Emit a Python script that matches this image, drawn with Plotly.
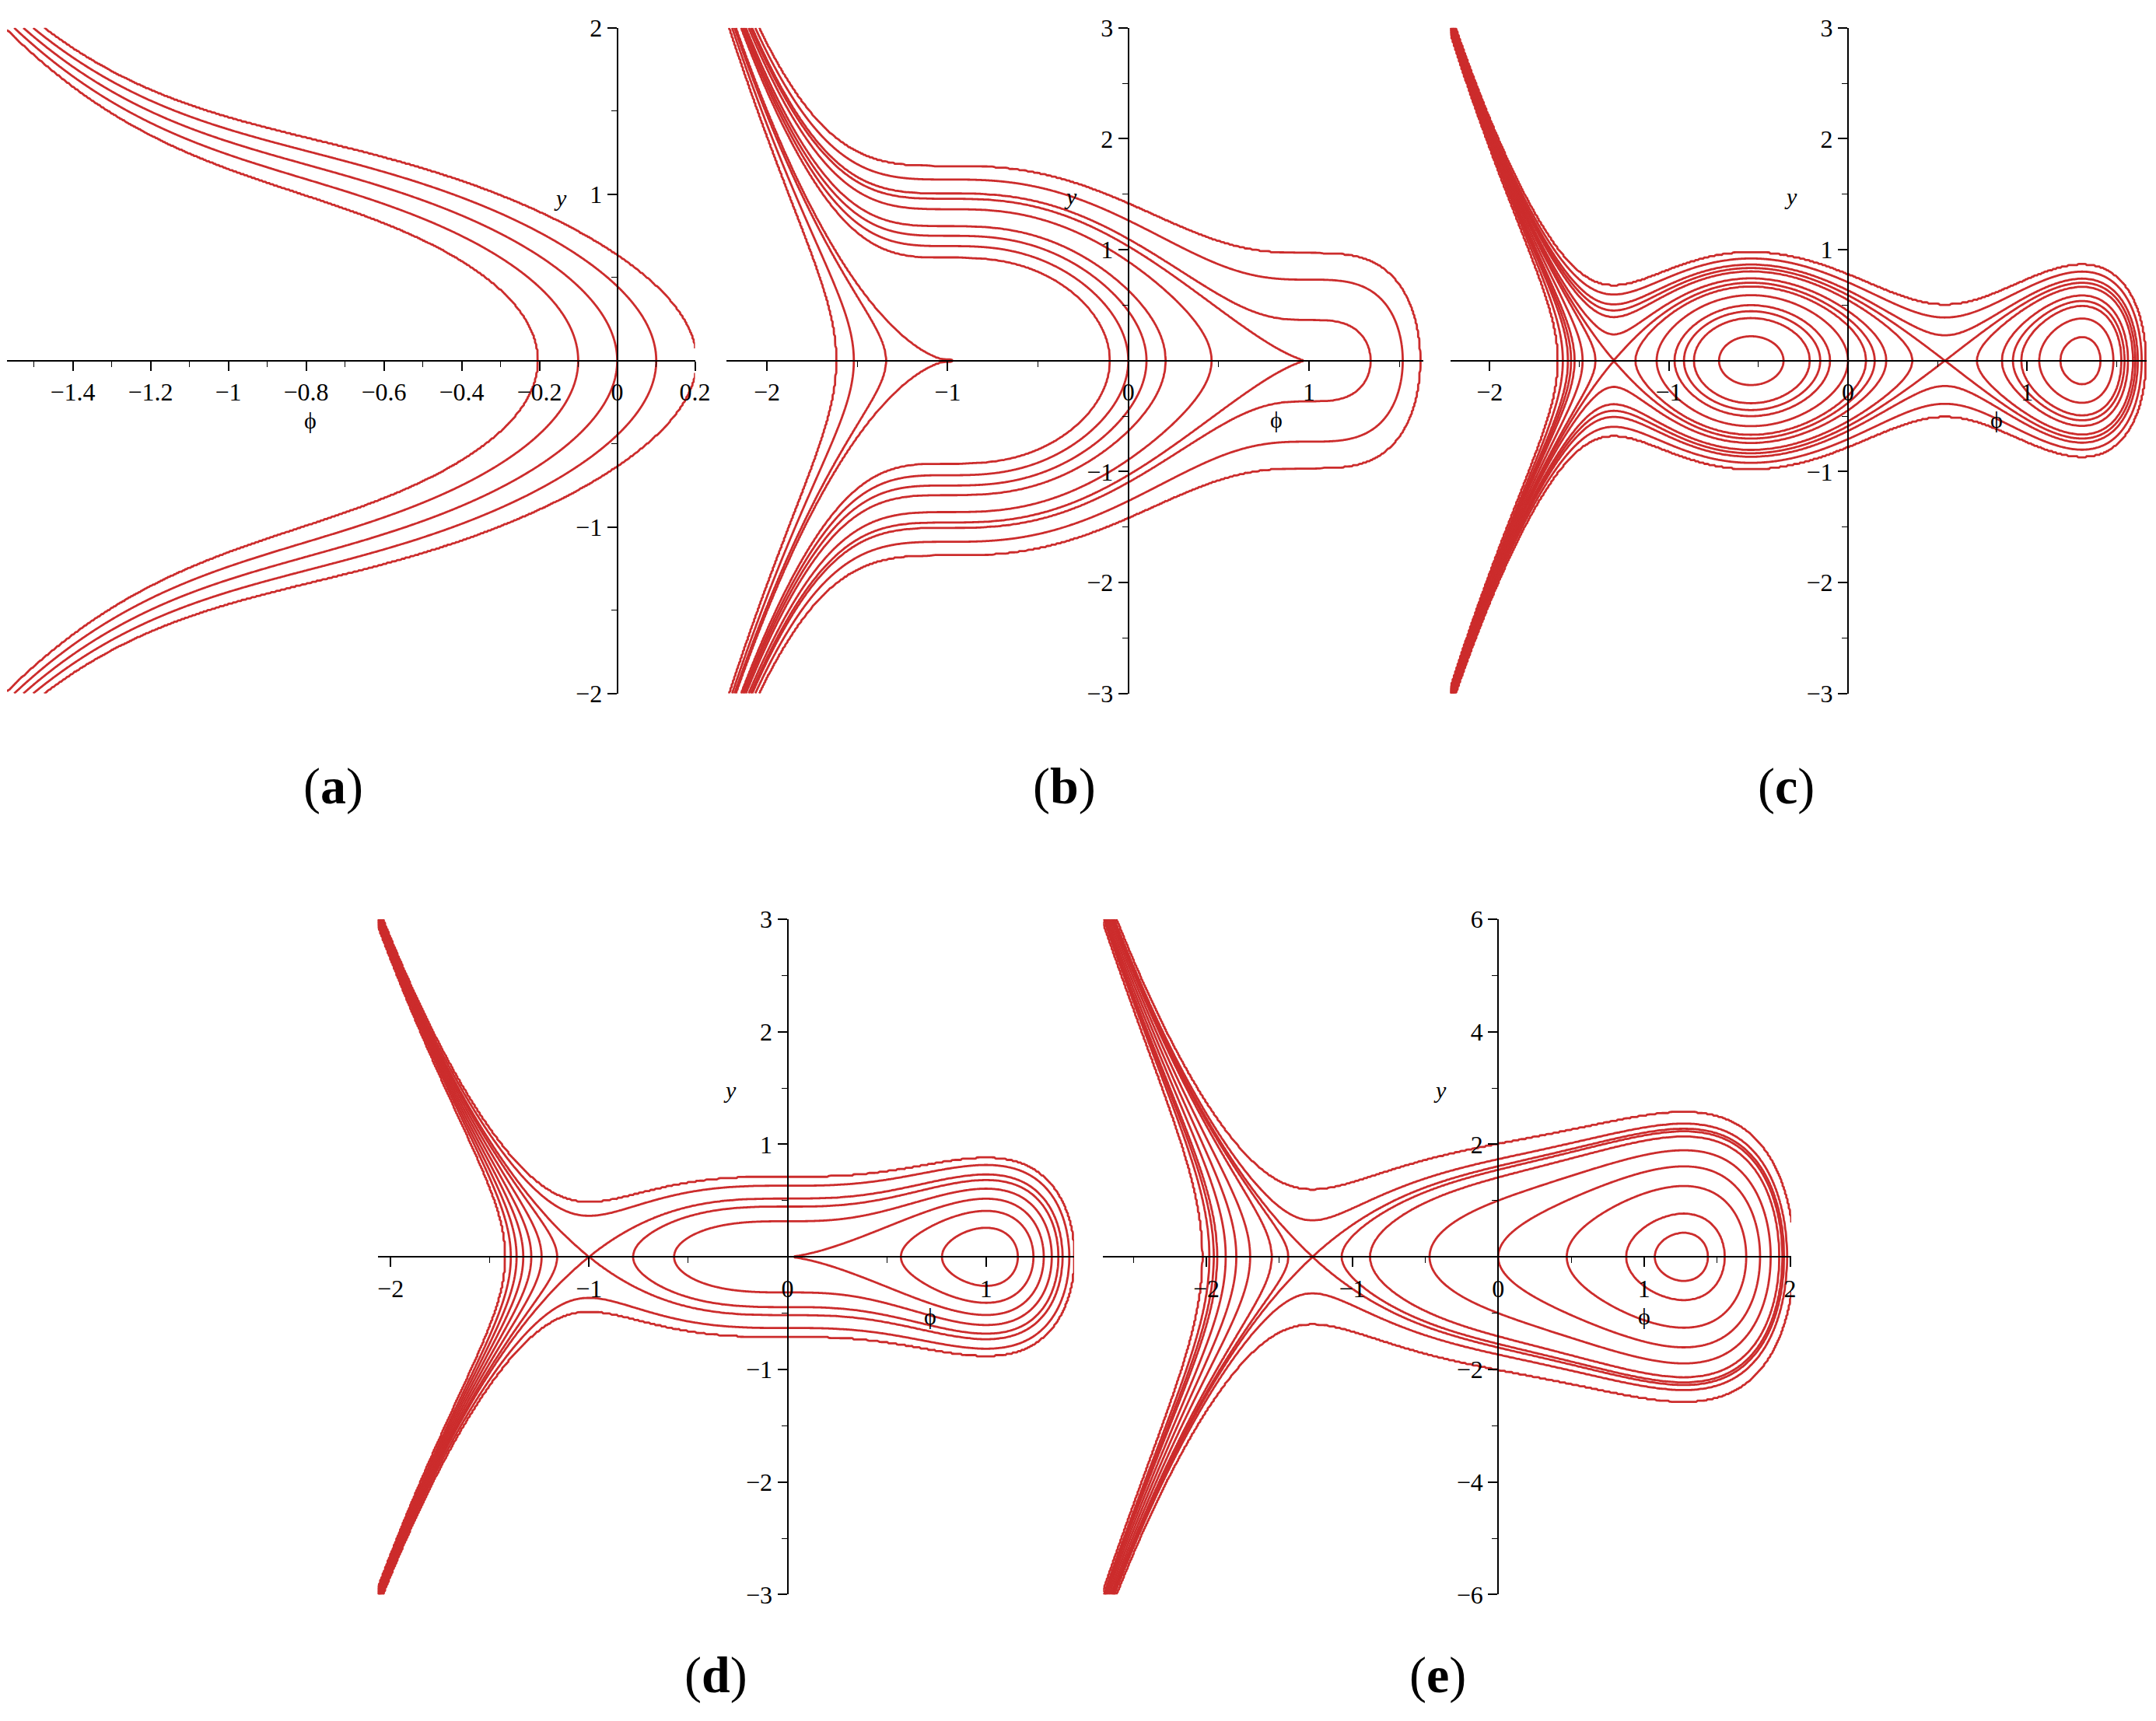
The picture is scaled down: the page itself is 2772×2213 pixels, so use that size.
import numpy as np
import plotly.graph_objects as go

W, H = 2772, 2213
RED = "rgb(204, 44, 44)"
FONT = "Liberation Serif"

# dphi/dxi = y, dy/dxi = -(phi^4 - a*phi^2 + b)
pot_a = [1.0, 2.0, 2.0, 1.0, 1.0]
pot_b = [1.0, 1.0, 0.5, 0.0, -1.0]

levels_a = [-0.2, -0.1, 0.0, 0.1, 0.2]
levels_b = [-1.0, -0.8, -0.6, -0.5333, -0.1, 0.0, 0.1, 0.2, 0.4, 0.5333, 0.6, 0.8, 1.0]
levels_c = [-0.2, -0.15, -0.1, -0.075, -0.05, 0.0, 0.05, 0.0722, 0.1, 0.15, 0.1742, 0.2, 0.25, 0.3]
levels_d = [-0.2, -0.15, -0.1, -0.05, 0.0, 0.05, 0.1, 0.1333, 0.2, 0.25]
levels_e = [-2.0, -1.5, -1.2, -1.0, -0.5, 0.0, 0.5, 1.0, 1.2, 1.292, 1.5, 2.0]

xticks_a = [-1.4, -1.2, -1, -0.8, -0.6, -0.4, -0.2, 0, 0.2]
xticks_bcd = [-2, -1, 0, 1]
xticks_e = [-2, -1, 0, 1, 2]
yticks_a = [-2, -1, 1, 2]
yticks_bcd = [-3, -2, -1, 1, 2, 3]
yticks_e = [-6, -4, -2, 2, 4, 6]

tags = ["a", "b", "c", "d", "e"]

# pixel box of each axes (left, right, top, bottom), ranges and label spots
panels = [
    dict(levels=levels_a, box=(1, 892, 10, 880), xr=(-1.569, 0.2), yr=(-2, 2),
         xt=xticks_a, yt=yticks_a, xminor=0.1, yminor=0.5,
         phi_at=(-0.79, -0.36), y_at=(-0.147, 0.98), tag_at=(424, 1001)),
    dict(levels=levels_b, box=(933, 1835, 10, 880), xr=(-2.223, 1.632), yr=(-3, 3),
         xt=xticks_bcd, yt=yticks_bcd, xminor=0.5, yminor=0.5,
         phi_at=(0.82, -0.53), y_at=(-0.32, 1.48), tag_at=(1370, 1001)),
    dict(levels=levels_c, box=(1870, 2772, 10, 880), xr=(-2.22, 1.667), yr=(-3, 3),
         xt=xticks_bcd, yt=yticks_bcd, xminor=0.5, yminor=0.5,
         phi_at=(0.83, -0.53), y_at=(-0.32, 1.48), tag_at=(2305, 1001)),
    dict(levels=levels_d, box=(481, 1383, 1175, 2057.9), xr=(-2.065, 1.444), yr=(-3, 3),
         xt=xticks_bcd, yt=yticks_bcd, xminor=0.5, yminor=0.5,
         phi_at=(0.72, -0.53), y_at=(-0.29, 1.48), tag_at=(919, 2163)),
    dict(levels=levels_e, box=(1420.5, 2311.7, 1175, 2057.9), xr=(-2.707, 2.008), yr=(-6, 6),
         xt=xticks_e, yt=yticks_e, xminor=0.5, yminor=1,
         phi_at=(1.0, -1.06), y_at=(-0.40, 2.97), tag_at=(1854, 2163)),
]


def energy(phi, y, a, b):
    return 0.5 * y ** 2 + phi ** 5 / 5 - a * phi ** 3 / 3 + b * phi


def tick_text(vals):
    return [f"{v:g}".replace("-", "\u2212") for v in vals]


fig = go.Figure()
annotations = []

for i, p in enumerate(panels):
    k = "" if i == 0 else str(i + 1)
    xs = np.linspace(p["xr"][0], p["xr"][1], 560)
    ys = np.linspace(p["yr"][0], p["yr"][1], 520)
    P, Y = np.meshgrid(xs, ys)
    E = energy(P, Y, pot_a[i], pot_b[i])

    # remap energy so the wanted levels become 0, 1, 2, ... for the contour trace
    lv = np.sort(np.array(p["levels"], dtype=float))
    lo = min(E.min(), lv[0]) - 1
    hi = max(E.max(), lv[-1]) + 1
    Z = np.interp(E, np.concatenate([[lo], lv, [hi]]), np.arange(-1, len(lv) + 1)).astype(np.float32)

    fig.add_trace(go.Contour(
        x=xs, y=ys, z=Z, xaxis="x" + k, yaxis="y" + k,
        autocontour=False,
        contours=dict(coloring="none", start=0, end=len(lv) - 1, size=1),
        line=dict(color=RED, width=2.8, smoothing=0.6),
        showscale=False, hoverinfo="skip",
    ))

    left, right, top, bottom = p["box"]
    x0px = left + (0 - p["xr"][0]) / (p["xr"][1] - p["xr"][0]) * (right - left)
    y0px = top + (p["yr"][1] - 0) / (p["yr"][1] - p["yr"][0]) * (bottom - top)

    common = dict(showgrid=False, zeroline=False, showline=True, linecolor="black", linewidth=2,
                  ticks="outside", ticklen=12, tickwidth=1.6, tickcolor="black",
                  tickfont=dict(family=FONT, size=32, color="black"), anchor="free",
                  ticklabeloverflow="allow")
    fig.layout["xaxis" + k] = dict(
        common, domain=[left / W, right / W], range=list(p["xr"]), position=1 - y0px / H,
        tickmode="array", tickvals=p["xt"], ticktext=tick_text(p["xt"]),
        minor=dict(dtick=p["xminor"], tick0=0, ticks="outside", ticklen=7, tickwidth=1.4, tickcolor="black"),
    )
    fig.layout["yaxis" + k] = dict(
        common, domain=[1 - bottom / H, 1 - top / H], range=list(p["yr"]), position=x0px / W,
        tickmode="array", tickvals=p["yt"], ticktext=tick_text(p["yt"]),
        minor=dict(dtick=p["yminor"], tick0=0, ticks="outside", ticklen=7, tickwidth=1.4, tickcolor="black"),
    )

    annotations.append(dict(x=p["phi_at"][0], y=p["phi_at"][1], xref="x" + k, yref="y" + k,
                            text="\u03d5", showarrow=False, font=dict(family=FONT, size=30, color="black")))
    annotations.append(dict(x=p["y_at"][0], y=p["y_at"][1], xref="x" + k, yref="y" + k,
                            text="<i>y</i>", showarrow=False, font=dict(family=FONT, size=30, color="black")))
    annotations.append(dict(x=p["tag_at"][0] / W, y=1 - p["tag_at"][1] / H, xref="paper", yref="paper",
                            xanchor="center", yanchor="middle",
                            text="(<b>" + tags[i] + "</b>)", showarrow=False,
                            font=dict(family=FONT, size=66, color="black")))

fig.update_layout(
    width=W, height=H,
    margin=dict(l=0, r=0, t=0, b=0),
    paper_bgcolor="white", plot_bgcolor="white",
    showlegend=False,
    annotations=annotations,
)

fig.write_html("out.html")
